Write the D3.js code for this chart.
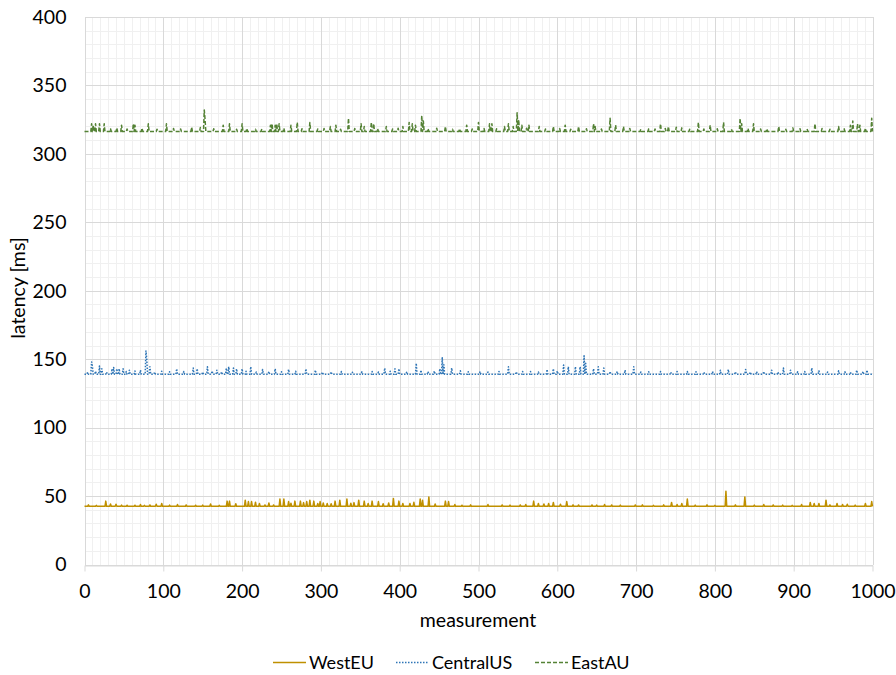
<!DOCTYPE html>
<html>
<head>
<meta charset="utf-8">
<script src="https://cdn.jsdelivr.net/npm/d3@7"></script>
<style>
  html, body { margin: 0; padding: 0; background: #ffffff; }
  svg { display: block; font-family: Lato, "Open Sans", sans-serif; }
</style>
</head>
<body>
<svg id="chart" width="896" height="675"></svg>
<script>
// Axis ticks
const measurementTicks = [0, 100, 200, 300, 400, 500, 600, 700, 800, 900, 1000];
const latencyTicks = [0, 50, 100, 150, 200, 250, 300, 350, 400];
const seriesNames = ["WestEU", "CentralUS", "EastAU"];
const measurementCount = 1001;

// Typical latency level of each route (ms)
const westEUBase = 42.5;
const centralUSBase = 139;
const eastAUBase = 316.3;

// Latency peaks: [measurement, latency ms]
const westEUPeaks = [
  [27, 46.3], [40, 44], [54, 43.3], [64, 43.3], [83, 43.5], [98, 44.6], [129, 43.5], [141, 43.3],
  [181, 46.3], [184, 46.3], [204, 47], [208, 46], [212, 46], [217, 45.5], [229, 43.5], [240, 43.5],
  [248, 47.8], [253, 47.8], [259, 46], [267, 46.3], [274, 46.3], [282, 46], [286, 47], [291, 46.3],
  [299, 46], [308, 44.6], [318, 46.3], [324, 47], [333, 47.8], [348, 47], [355, 46.3], [365, 46.3],
  [373, 46], [392, 48.3], [399, 46.3], [413, 44.6], [426, 47.8], [429, 47], [437, 49.4], [458, 46.3],
  [462, 46], [479, 43.3], [530, 43.5], [553, 43.5], [570, 46.3], [576, 44.6], [589, 44.6], [595, 45.3],
  [612, 46], [627, 43.5], [644, 43.5], [669, 43.5], [699, 43.5], [745, 45.3], [758, 44.6], [765, 47.8],
  [814, 53.6], [838, 49.4], [874, 43.5], [921, 45.3], [926, 44.6], [932, 44.6], [941, 47], [955, 44.6],
  [968, 44], [991, 44.6], [999, 46]
];
const centralUSPeaks = [
  [9, 148], [10, 145], [19, 145], [22, 143], [35, 143], [37, 144], [41, 143], [44, 143], [49, 143],
  [57, 142], [71, 142], [78, 156], [79, 150], [83, 144.5], [117, 143], [138, 143.5], [143, 143],
  [156, 144.5], [168, 142], [180, 143.5], [183, 144.5], [189, 143.5], [193, 143], [200, 143],
  [211, 144.5], [226, 142.5], [242, 143], [259, 142.5], [281, 143], [293, 142], [381, 143.5],
  [394, 143], [399, 143], [421, 147], [427, 142], [451, 143], [454, 151], [456, 146], [466, 143.5],
  [477, 141.5], [502, 141], [526, 141], [538, 144.5], [566, 141], [587, 142.5], [595, 143],
  [608, 145.7], [614, 144.5], [623, 144.5], [629, 144.5], [634, 152.5], [636, 147], [646, 143],
  [652, 144.5], [659, 143.5], [676, 141], [686, 142], [697, 144.5], [731, 141], [765, 141],
  [807, 142], [817, 142.5], [839, 142.5], [853, 141], [872, 142], [887, 143.5], [896, 142],
  [923, 143.5], [932, 141.5], [957, 141.5], [980, 142], [993, 142]
];
const eastAUPeaks = [
  [9, 322], [11, 321], [14, 322], [19, 322], [25, 322], [47, 321], [62, 322], [64, 321], [81, 322],
  [104, 322], [136, 319.5], [152, 332], [153, 325], [176, 321], [184, 322], [200, 322], [217, 318],
  [236, 321], [238, 322], [242, 321], [244, 322], [247, 322], [262, 321], [270, 323], [286, 323],
  [312, 320], [319, 321], [335, 326], [351, 322], [355, 320], [364, 323], [367, 322], [383, 320],
  [404, 320], [412, 323], [416, 322], [420, 321], [428, 328], [430, 324], [458, 320], [485, 321],
  [500, 323], [514, 322], [517, 322], [533, 320], [538, 322], [544, 320], [549, 330], [551, 325],
  [555, 321], [564, 321], [577, 320], [595, 320], [610, 321], [627, 320], [646, 322], [648, 320],
  [667, 326], [674, 321], [684, 320], [731, 322], [741, 320], [751, 319.5], [758, 319], [768, 318],
  [779, 323], [794, 321], [811, 323], [832, 326], [834, 322], [849, 322], [881, 320], [899, 319],
  [927, 322], [957, 320], [972, 321], [975, 324], [981, 322], [984, 321], [999, 326]
];

// Small ripples on top of the typical level: [measurement, latency ms]
const westEURipples = [
  [5, 43.6], [15, 43.2], [33, 44.2], [47, 43.4], [71, 43.8], [76, 43.2], [91, 44], [108, 43.4],
  [118, 43.8], [150, 43.4], [160, 44.2], [171, 43.2], [192, 44.4], [222, 44.6], [234, 45], [262, 44.8],
  [278, 45.2], [296, 44.6], [303, 45], [313, 44.4], [338, 44.8], [342, 45.2], [360, 44.6], [379, 44.4],
  [386, 45], [404, 44.6], [418, 45.4], [445, 44.2], [470, 43.8], [490, 43.6], [512, 43.8], [540, 43.4],
  [560, 43.8], [583, 44.2], [604, 44], [620, 43.6], [650, 43.4], [660, 43.8], [680, 43.4], [708, 43.6],
  [722, 43.2], [735, 43.6], [752, 43.8], [775, 43.4], [790, 43.6], [800, 43.2], [826, 43.6], [850, 43.4],
  [862, 43.8], [886, 43.4], [898, 43.2], [910, 43.8], [946, 43.6], [962, 43.8], [978, 43.4]
];
const centralUSRipples = [
  [4, 140.5], [14, 141.2], [28, 140.6], [53, 141], [64, 141.4], [89, 140.6], [98, 141.2], [108, 140.8],
  [126, 141], [150, 140.6], [162, 141.4], [174, 140.8], [205, 141.2], [218, 140.6], [234, 141], [250, 140.8],
  [268, 141.2], [302, 140.6], [313, 140.8], [326, 141], [340, 140.5], [352, 140.8], [365, 141], [373, 140.6],
  [388, 141.2], [409, 140.8], [436, 141], [444, 141.4], [487, 140.8], [512, 140.6], [548, 140.8], [556, 141],
  [576, 140.6], [600, 141.4], [667, 141], [706, 140.6], [716, 140.8], [744, 140.6], [752, 141], [776, 140.8],
  [786, 140.5], [797, 141], [826, 140.8], [845, 140.6], [862, 141], [880, 140.6], [905, 140.8], [914, 141],
  [943, 140.6], [965, 140.8], [972, 140.5], [988, 141]
];
const eastAURipples = [
  [33, 318.4], [41, 319], [54, 318.2], [73, 318.8], [92, 318], [113, 318.6], [122, 318.2], [147, 319.2],
  [164, 318.4], [193, 318], [206, 318.6], [225, 318.2], [253, 318.8], [276, 318.4], [296, 318.2], [304, 318.6],
  [325, 318], [343, 318.6], [372, 318.4], [391, 318.2], [398, 318.8], [436, 318.4], [447, 318.8], [467, 318],
  [476, 318.4], [492, 318.2], [507, 318.6], [523, 318.4], [561, 318.8], [585, 318.2], [603, 318.6], [617, 318],
  [637, 318.4], [656, 318.2], [692, 318.6], [706, 318], [716, 318.4], [724, 318.2], [737, 318.6], [786, 318.2],
  [803, 318.4], [821, 318], [842, 318.6], [858, 318.2], [866, 318.4], [890, 318], [908, 318.4], [917, 318.2],
  [936, 318.6], [946, 318], [964, 318.4], [991, 318.8]
];

// Expand a typical level plus its ripples and peaks into one value per measurement
function buildSeries(base, ripples, peaks) {
  const values = new Array(measurementCount).fill(base);
  ripples.forEach(([m, v]) => { values[m] = v; });
  peaks.forEach(([m, v]) => { values[m] = v; });
  return values;
}

const series = [
  { name: seriesNames[0], values: buildSeries(westEUBase, westEURipples, westEUPeaks), color: "#BF9000", dash: null },
  { name: seriesNames[1], values: buildSeries(centralUSBase, centralUSRipples, centralUSPeaks), color: "#2E75B6", dash: "1.5,1.5" },
  { name: seriesNames[2], values: buildSeries(eastAUBase, eastAURipples, eastAUPeaks), color: "#548235", dash: "4,2" }
];

const svg = d3.select("#chart");
const plot = { left: 84.5, right: 872.5, top: 17, bottom: 564.5 };
const tickFont = 19.5;

const x = d3.scaleLinear().domain([0, 1000]).range([plot.left, plot.right]);
const y = d3.scaleLinear().domain([0, 400]).range([plot.bottom, plot.top]);

// Minor gridlines
const grid = svg.append("g").attr("shape-rendering", "crispEdges");
grid.selectAll("line.xminor").data(x.ticks(100)).join("line")
  .attr("x1", d => Math.round(x(d)) + 0.5).attr("x2", d => Math.round(x(d)) + 0.5)
  .attr("y1", plot.top).attr("y2", plot.bottom)
  .attr("stroke", "#f0f0f0").attr("stroke-width", 1);
grid.selectAll("line.yminor").data(y.ticks(40)).join("line")
  .attr("y1", d => Math.round(y(d)) + 0.5).attr("y2", d => Math.round(y(d)) + 0.5)
  .attr("x1", plot.left).attr("x2", plot.right)
  .attr("stroke", "#f0f0f0").attr("stroke-width", 1);
// Major gridlines
grid.selectAll("line.xmajor").data(measurementTicks).join("line")
  .attr("x1", d => Math.round(x(d)) + 0.5).attr("x2", d => Math.round(x(d)) + 0.5)
  .attr("y1", plot.top).attr("y2", plot.bottom)
  .attr("stroke", "#d9d9d9").attr("stroke-width", 1);
grid.selectAll("line.ymajor").data(latencyTicks).join("line")
  .attr("y1", d => Math.round(y(d)) + 0.5).attr("y2", d => Math.round(y(d)) + 0.5)
  .attr("x1", plot.left).attr("x2", plot.right)
  .attr("stroke", "#d9d9d9").attr("stroke-width", 1);

// Axes
const xAxis = svg.append("g")
  .attr("transform", `translate(0,${Math.round(plot.bottom) + 0.5})`)
  .call(d3.axisBottom(x).tickValues(measurementTicks).tickFormat(d3.format("d"))
    .tickSize(6).tickPadding(13).tickSizeOuter(0));
xAxis.select(".domain").attr("stroke", "#d9d9d9");
xAxis.selectAll(".tick line").attr("stroke", "#d9d9d9");
xAxis.selectAll("text").attr("fill", "#000").attr("font-size", tickFont).attr("font-family", "Lato, sans-serif");

const yAxis = svg.append("g")
  .attr("transform", `translate(${plot.left},0)`)
  .call(d3.axisLeft(y).tickValues(latencyTicks).tickFormat(d3.format("d")).tickSize(0).tickPadding(18));
yAxis.select(".domain").remove();
yAxis.selectAll("text").attr("fill", "#000").attr("font-size", tickFont).attr("font-family", "Lato, sans-serif");

// Axis titles
svg.append("text")
  .attr("x", 478).attr("y", 627)
  .attr("text-anchor", "middle").attr("font-size", tickFont).attr("fill", "#000")
  .text("measurement");
svg.append("text")
  .attr("transform", "translate(25,288) rotate(-90)")
  .attr("text-anchor", "middle").attr("font-size", tickFont).attr("fill", "#000")
  .text("latency [ms]");

// Series lines
const line = d3.line().x((d, i) => x(i)).y(d => y(d));
svg.append("g").selectAll("path").data(series).join("path")
  .attr("d", d => line(d.values))
  .attr("fill", "none")
  .attr("stroke", d => d.color)
  .attr("stroke-width", 1.5)
  .attr("stroke-dasharray", d => d.dash)
  .attr("stroke-linejoin", "round");

// Legend
const legendItems = [
  { sx: 273, tx: 309 },
  { sx: 396, tx: 432 },
  { sx: 535, tx: 571 }
];
const legend = svg.append("g");
series.forEach((s, i) => {
  const li = legendItems[i];
  legend.append("line")
    .attr("x1", li.sx).attr("x2", li.sx + 33).attr("y1", 662.5).attr("y2", 662.5)
    .attr("stroke", s.color).attr("stroke-width", 1.5).attr("stroke-dasharray", s.dash);
  legend.append("text")
    .attr("x", li.tx).attr("y", 669).attr("font-size", 18).attr("fill", "#000")
    .text(s.name);
});
</script>
</body>
</html>
